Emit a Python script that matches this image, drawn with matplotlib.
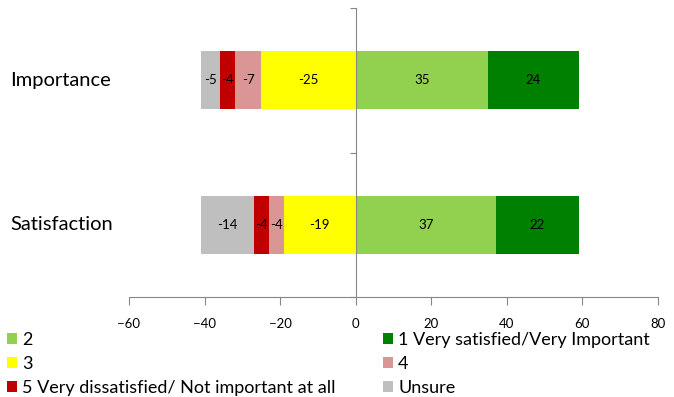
import matplotlib.pyplot as plt
import numpy as np

plt.rcParams["font.family"] = ["Lato", "DejaVu Sans"]

# ==========================
# Data
# ==========================

categories = ["Satisfaction", "Importance"]

very_important = [22, 24]      # 1
level_2 = [37, 35]             # 2
level_3 = [-19, -25]           # 3
level_4 = [-4, -7]             # 4
level_5 = [-4, -4]             # 5
unsure = [-14, -5]

labels = {
    "1": "1 Very satisfied/Very Important",
    "2": "2",
    "3": "3",
    "4": "4",
    "5": "5 Very dissatisfied/ Not important at all",
    "u": "Unsure",
}

colors = {
    "1": "#008000",
    "2": "#92D050",
    "3": "#FFFF00",
    "4": "#DA9694",
    "5": "#C00000",
    "u": "#BFBFBF",
}

# ==========================
# Plot
# ==========================

fig = plt.figure(figsize=(6.74, 3.97), dpi=100)
ax = fig.add_axes([129 / 674, 1 - 297 / 397, 529 / 674, 289 / 397])

y = np.array([0.5, 1.5])
h = 0.4

bars = {}

# positive side
left = np.zeros(2)
for key, vals in [("2", level_2), ("1", very_important)]:
    vals = np.array(vals)
    bars[key] = ax.barh(y, vals, h, left=left, color=colors[key], label=labels[key])
    for yi, l, v in zip(y, left, vals):
        ax.text(l + v / 2, yi, f"{v}", ha="center", va="center", fontsize=9.5)
    left = left + vals

# negative side
left = np.zeros(2)
for key, vals in [("3", level_3), ("4", level_4), ("5", level_5), ("u", unsure)]:
    vals = np.array(vals)
    bars[key] = ax.barh(y, vals, h, left=left, color=colors[key], label=labels[key])
    for yi, l, v in zip(y, left, vals):
        ax.text(l + v / 2, yi, f"{v}", ha="center", va="center", fontsize=9.5)
    left = left + vals

ax.set_xlim(-60, 80)
ax.set_ylim(0, 2)
ax.set_xticks(np.arange(-60, 81, 20))
ax.set_yticks([0, 1, 2])
ax.set_yticklabels([])

for s in ["top", "right"]:
    ax.spines[s].set_visible(False)
ax.spines["left"].set_position(("data", 0))
ax.spines["left"].set_color("#868686")
ax.spines["bottom"].set_color("#868686")
ax.tick_params(axis="y", length=4, color="#868686")
ax.tick_params(axis="x", length=6, color="#868686", labelsize=9.5, pad=9)

for yi, cat in zip(y, categories):
    ax.text(-(129 - 10) / 529, yi, cat,
            transform=ax.get_yaxis_transform(), ha="left", va="center", fontsize=14.5)

# legend in Excel order
order = ["2", "3", "5", "1", "4", "u"]
fig.legend([bars[k] for k in order], [labels[k] for k in order],
           ncol=2, loc="upper left", bbox_to_anchor=(7 / 674, 1 - 332 / 397),
           frameon=False, fontsize=13, handlelength=0.55, handleheight=0.55,
           handletextpad=0.3, columnspacing=2.6, labelspacing=0.45,
           borderaxespad=0, borderpad=0)

fig.savefig("out.png", dpi=100)
